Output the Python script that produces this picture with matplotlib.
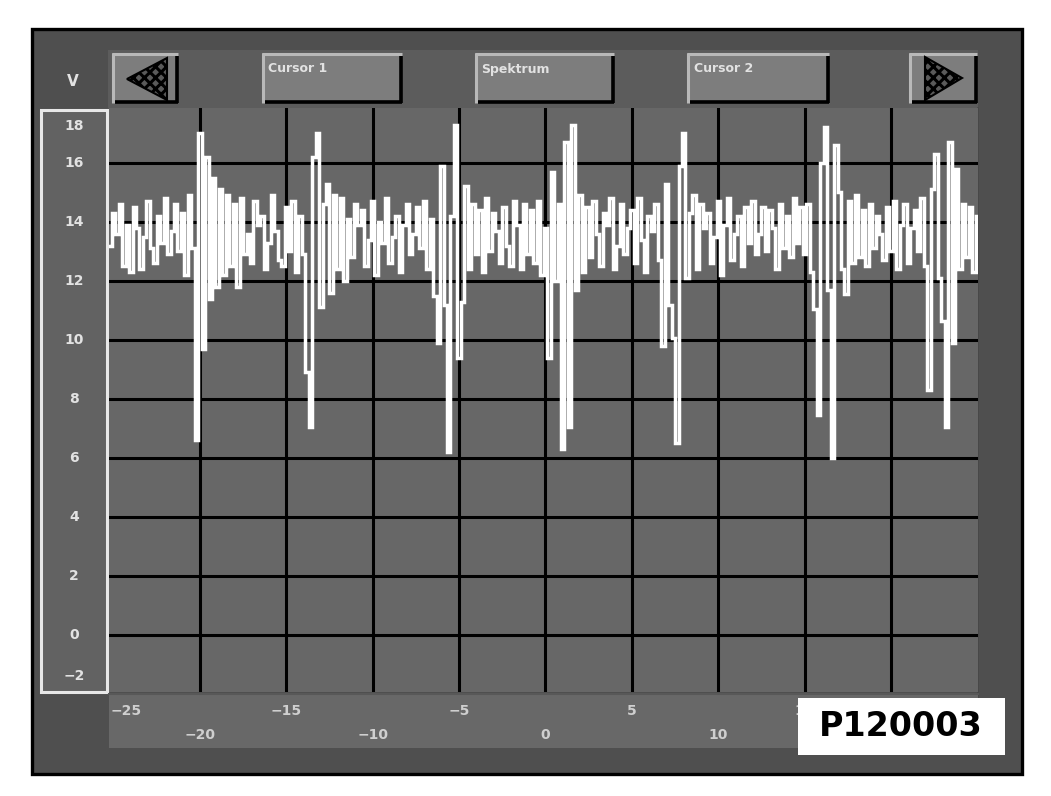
import matplotlib
matplotlib.use("Agg")
import matplotlib.pyplot as plt
import matplotlib.transforms as mtransforms
from matplotlib.patches import Rectangle, Polygon
import numpy as np

plt.rcParams['font.family'] = 'DejaVu Sans'
plt.rcParams['hatch.linewidth'] = 2.2

######################################################################
# data

button_labels = ["Cursor 1", "Spektrum", "Cursor 2"]
y_unit = "V"
y_ticks = [18, 16, 14, 12, 10, 8, 6, 4, 2, 0, -2]
y_grid = [0, 2, 4, 6, 8, 10, 12, 14, 16]
x_ticks = [-25, -20, -15, -10, -5, 0, 5, 10, 15, 20, 25]
x_hidden = [20, 25]          # covered by the picture id box
x_grid = [-20, -15, -10, -5, 0, 5, 10, 15, 20]
x_range = (-25.26, 25.03)
y_range = (-1.93, 17.86)
picture_id = "P120003"

# signal samples, first sample at x = -25.2, one every 0.2
sig_x0 = -25.2
sig_dx = 0.2
sig_y = [
    13.2, 14.3, 13.6, 14.6, 12.5, 13.9, 12.3, 14.5, 13.8, 12.4,
    13.5, 14.7, 13.1, 12.6, 14.2, 13.3, 14.8, 12.9, 13.7, 14.6,
    13.0, 14.3, 12.2, 14.9, 13.1, 6.6, 17.0, 9.7, 16.2, 11.4,
    15.5, 11.8, 15.1, 12.2, 14.9, 12.5, 14.6, 11.8, 14.8, 12.9,
    13.6, 12.6, 14.7, 13.9, 14.2, 12.4, 13.3, 14.9, 13.7, 12.7,
    12.5, 14.5, 13.0, 14.7, 12.3, 14.2, 12.9, 8.9, 7.05, 16.2,
    17.0, 11.1, 14.6, 15.3, 11.6, 14.9, 12.4, 14.8, 12.0, 14.1,
    12.8, 14.6, 13.9, 14.4, 12.5, 13.4, 14.7, 12.2, 14.0, 13.3,
    14.8, 12.6, 13.5, 14.2, 12.3, 13.9, 14.6, 12.9, 13.6, 14.5,
    13.1, 14.7, 12.4, 14.1, 11.5, 9.9, 15.9, 11.2, 6.2, 14.2,
    17.3, 9.4, 11.3, 15.2, 12.4, 14.6, 12.9, 14.4, 12.3, 14.8,
    13.0, 14.3, 13.7, 12.6, 14.5, 13.2, 12.5, 14.7, 13.9, 12.4,
    14.6, 12.9, 14.4, 12.6, 14.7, 12.2, 13.8, 9.4, 15.7, 12.0,
    14.6, 6.3, 16.7, 7.05, 17.3, 11.7, 14.9, 12.3, 14.5, 12.8,
    14.7, 13.6, 12.5, 14.3, 13.9, 14.8, 12.4, 13.2, 14.6, 12.9,
    13.8, 14.4, 12.6, 14.8, 13.4, 12.3, 14.2, 13.7, 14.6, 12.7,
    9.8, 15.3, 11.2, 10.05, 6.5, 15.9, 17.0, 12.1, 14.3, 14.9,
    12.4, 14.6, 13.8, 14.3, 12.6, 13.5, 14.7, 12.2, 13.9, 14.8,
    12.7, 13.6, 14.2, 12.5, 14.5, 13.3, 14.7, 12.9, 13.6, 14.5,
    13.0, 14.4, 13.8, 12.4, 14.6, 13.1, 14.2, 12.8, 14.8, 13.3,
    14.5, 12.9, 14.6, 12.3, 11.05, 7.45, 16.0, 17.2, 11.7, 6.0,
    16.6, 15.0, 12.4, 11.55, 14.7, 12.6, 14.9, 12.8, 14.4, 12.5,
    14.6, 13.1, 14.2, 13.6, 12.7, 14.5, 13.0, 14.7, 12.4, 13.9,
    14.6, 12.6, 13.8, 14.4, 13.0, 14.8, 12.5, 8.3, 15.1, 16.3,
    12.1, 10.65, 7.05, 16.7, 9.9, 15.8, 12.4, 14.6, 12.8, 14.5,
    12.3, 14.2,
]

######################################################################

W, H = 1051, 796
FRAME = "#4f4f4f"
BAR = "#5c5c5c"
FACE = "#7d7d7d"
PLOT = "#676767"
TXT = "#e2e2e2"


def fig_box(x0, y0, x1, y1):
    """pixel box (top-left origin) -> figure fraction"""
    return [x0 / W, 1 - y1 / H, (x1 - x0) / W, (y1 - y0) / H]


def button(bg, x0, y0, x1, y1):
    bg.add_patch(Rectangle((x0, y0), x1 - x0, y1 - y0, facecolor=FACE,
                           edgecolor="none", zorder=2))
    bg.plot([x0, x1], [y0 + 1, y0 + 1], color="#b9b9b9", lw=2.2, zorder=3,
            solid_capstyle="butt")
    bg.plot([x0 + 1, x0 + 1], [y0, y1], color="#b9b9b9", lw=2.2, zorder=3,
            solid_capstyle="butt")
    bg.plot([x0 + 3, x1], [y1 - 1.5, y1 - 1.5], color="black", lw=2.6, zorder=3,
            solid_capstyle="butt")
    bg.plot([x1 - 1.5, x1 - 1.5], [y0 + 3, y1], color="black", lw=2.6, zorder=3,
            solid_capstyle="butt")


fig = plt.figure(figsize=(W / 100, H / 100), dpi=100)
fig.patch.set_facecolor("white")

bg = fig.add_axes([0, 0, 1, 1])
bg.set_xlim(0, W)
bg.set_ylim(H, 0)
bg.axis("off")

# instrument frame
bg.add_patch(Rectangle((31.5, 28.5), 990, 745, facecolor=FRAME,
                       edgecolor="black", lw=2.4, zorder=1))
bg.add_patch(Rectangle((108, 50), 870, 58, facecolor=BAR,
                       edgecolor="none", zorder=1.5))
bg.plot([978, 978], [108, 748], color="#474747", lw=1.2, zorder=1.6)

# buttons along the top
button(bg, 112, 53, 178, 103)
button(bg, 262, 53, 402, 103)
button(bg, 475, 53, 614, 103)
button(bg, 687, 53, 829, 103)
button(bg, 909, 53, 977, 103)
bg.add_patch(Polygon([(127, 79), (167, 58), (167, 100)], closed=True,
                     facecolor="#5a5a5a", edgecolor="black", hatch="xxx",
                     lw=1.5, zorder=4))
bg.add_patch(Polygon([(925, 57), (925, 100), (962, 78)], closed=True,
                     facecolor="#5a5a5a", edgecolor="black", hatch="xxx",
                     lw=1.5, zorder=4))
for label, x in zip(button_labels, [268, 481, 694]):
    bg.text(x, 69, label, color=TXT, fontsize=9, fontweight="bold",
            ha="left", va="center", zorder=5)

bg.text(73, 81, y_unit, color=TXT, fontsize=11, fontweight="bold",
        ha="center", va="center", zorder=5)

# y label panel
bg.add_patch(Rectangle((41, 109.5), 65.5, 582, facecolor="#626262",
                       edgecolor="#e8e8e8", lw=2.2, zorder=2))

# x label band
bg.add_patch(Rectangle((109, 693), 869, 55, facecolor="#686868",
                       edgecolor="none", zorder=2))
bg.plot([109, 978], [694, 694], color="#585858", lw=1.5, zorder=2.5)

# plot area
ax = fig.add_axes(fig_box(109, 108, 978, 692))
ax.set_facecolor(PLOT)
ax.set_xlim(*x_range)
ax.set_ylim(*y_range)
ax.set_xticks(x_grid)
ax.set_yticks(y_grid)
ax.tick_params(length=0, labelbottom=False, labelleft=False)
ax.grid(True, color="black", lw=2.2)
for s in ax.spines.values():
    s.set_visible(False)

sig_x = sig_x0 + sig_dx * np.arange(len(sig_y))
ax.plot(sig_x, sig_y, drawstyle="steps-mid", color="white", lw=2.5,
        solid_joinstyle="miter")

# y tick labels (squeezed at the ends like on the screen)
ylab_tr = mtransforms.blended_transform_factory(bg.transData, ax.transData)
for v in y_ticks:
    yy = min(max(v, y_range[0] + 0.55), y_range[1] - 0.6)
    txt = str(v).replace("-", "\u2212")
    bg.text(74, yy, txt, transform=ylab_tr, color=TXT, fontsize=10,
            fontweight="bold", ha="center", va="center", zorder=5)

# x tick labels, two staggered rows
xlab_tr = mtransforms.blended_transform_factory(ax.transData, bg.transData)
for i, v in enumerate(x_ticks):
    if v in x_hidden:
        continue
    xx = min(max(v, x_range[0] + 1.0), x_range[1] - 1.0)
    row_y = 711 if i % 2 == 0 else 735
    txt = str(v).replace("-", "\u2212")
    bg.text(xx, row_y, txt, transform=xlab_tr, color="#cfcfcf", fontsize=10,
            fontweight="bold", ha="center", va="center", zorder=3)

# picture id box
bg.add_patch(Rectangle((798, 698), 207, 57, facecolor="white",
                       edgecolor="none", zorder=6))
bg.text(901, 727, picture_id, color="black", fontsize=24, fontweight="bold",
        ha="center", va="center", zorder=7)

plt.savefig("out.png", dpi=100)
